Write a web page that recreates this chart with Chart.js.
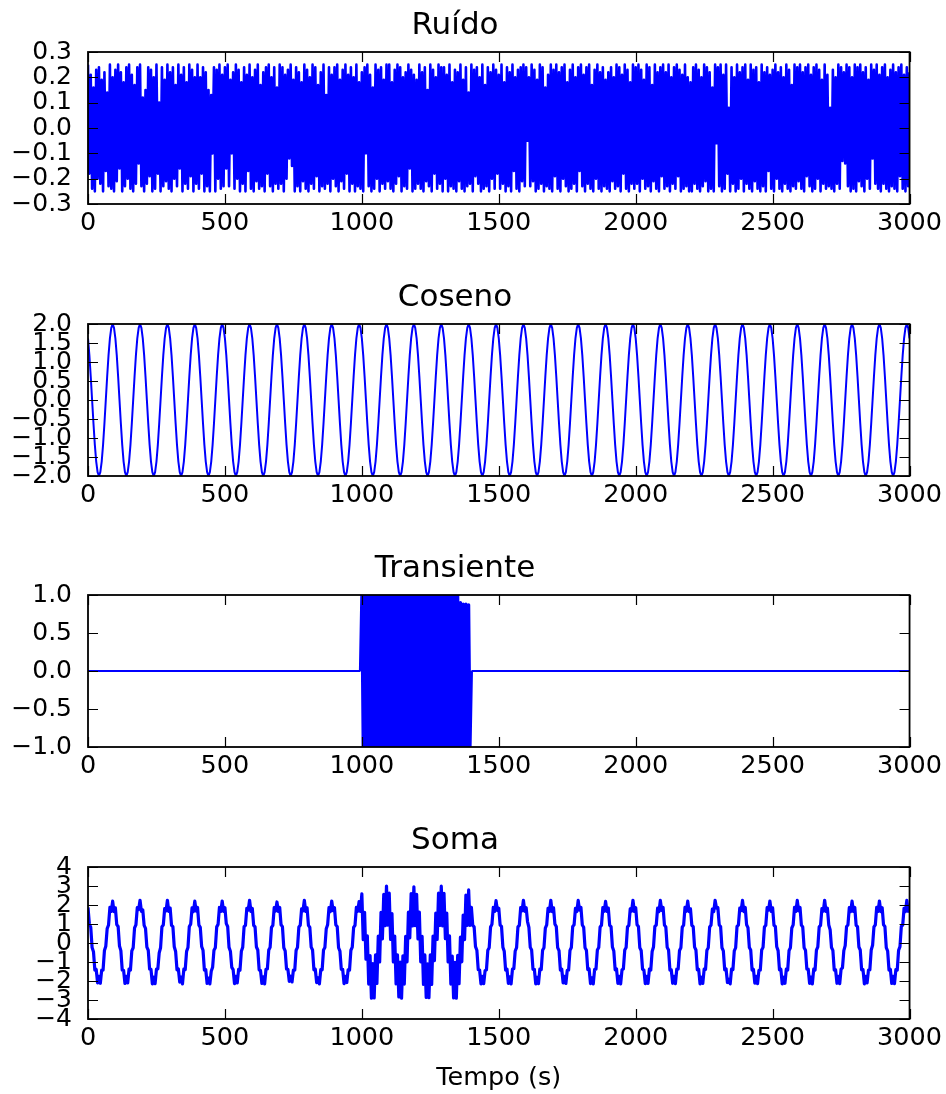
<!DOCTYPE html>
<html lang="pt">
<head>
<meta charset="utf-8">
<title>Ruído, Coseno, Transiente e Soma</title>
<script src="https://cdn.jsdelivr.net/npm/chart.js@4"></script>
<style>
  html, body { margin: 0; padding: 0; background: #fff; }
  #figura { position: relative; width: 946px; height: 1094px; }
  #figura canvas { position: absolute; left: 0; }
</style>
</head>
<body>
<div id="figura">
  <canvas id="painelRuido" width="946" height="272" style="top:0"></canvas>
  <canvas id="painelCoseno" width="946" height="272" style="top:272px"></canvas>
  <canvas id="painelTransiente" width="946" height="272" style="top:543px"></canvas>
  <canvas id="painelSoma" width="946" height="279" style="top:815px"></canvas>
</div>
<script>
// amostras a cada 5 s, de 0 a 3000 s
const passo = 5;

const ticksTempo = [0, 500, 1000, 1500, 2000, 2500, 3000];
const ticksRuido = [-0.3, -0.2, -0.1, 0, 0.1, 0.2, 0.3];
const ticksCoseno = [-2, -1.5, -1, -0.5, 0, 0.5, 1, 1.5, 2];
const ticksTransiente = [-1, -0.5, 0, 0.5, 1];
const ticksSoma = [-4, -3, -2, -1, 0, 1, 2, 3, 4];

// ruído (uma linha = 100 s)
const ruido = [
  .25,-.18,.21,-.24,.16,-.25,.23,-.2,.24,-.22,.19,-.25,.22,-.17,.14,-.23,.25,-.24,.2,-.25,
  .23,-.21,.25,-.16,.22,-.25,.18,-.23,.24,-.2,.25,-.24,.21,-.25,.17,-.22,.24,-.14,.25,-.23,
  .12,-.25,.15,-.22,.24,-.19,.23,-.25,.2,-.24,.25,-.18,.1,-.25,.24,-.23,.19,-.21,.25,-.24,
  .22,-.25,.24,-.2,.17,-.23,.25,-.16,.21,-.25,.24,-.22,.18,-.24,.25,-.19,.23,-.25,.2,-.22,
  .25,-.24,.2,-.18,.24,-.25,.22,-.23,.15,-.25,.13,-.1,.24,-.25,.23,-.2,.25,-.24,.21,-.23,
  .24,-.16,.25,-.23,.19,-.1,.22,-.24,.25,-.2,.23,-.25,.18,-.22,.24,-.25,.21,-.17,.25,-.24,
  .2,-.25,.23,-.21,.25,-.24,.17,-.23,.22,-.25,.24,-.18,.25,-.23,.2,-.25,.24,-.22,.16,-.24,
  .25,-.22,.24,-.25,.21,-.2,.23,-.12,.25,-.15,.19,-.25,.24,-.23,.22,-.25,.18,-.21,.25,-.24,
  .23,-.25,.2,-.22,.25,-.24,.24,-.19,.17,-.25,.22,-.23,.25,-.24,.13,-.22,.24,-.25,.21,-.2,
  .24,-.23,.25,-.25,.19,-.21,.23,-.24,.25,-.18,.21,-.25,.24,-.22,.2,-.25,.25,-.23,.18,-.24,
  .22,-.25,.24,-.1,.25,-.23,.21,-.25,.16,-.24,.25,-.2,.23,-.25,.24,-.22,.19,-.24,.25,-.21,
  .25,-.24,.18,-.25,.23,-.22,.25,-.19,.24,-.25,.2,-.23,.22,-.24,.25,-.16,.23,-.25,.21,-.24,
  .19,-.22,.25,-.24,.22,-.25,.24,-.21,.15,-.23,.25,-.25,.23,-.18,.2,-.24,.25,-.22,.24,-.25,
  .24,-.2,.21,-.25,.25,-.23,.18,-.24,.23,-.25,.22,-.21,.25,-.24,.19,-.25,.24,-.23,.14,-.22,
  .25,-.25,.23,-.19,.24,-.22,.2,-.25,.25,-.24,.17,-.23,.24,-.25,.22,-.2,.25,-.24,.23,-.18,
  .21,-.24,.25,-.22,.18,-.25,.24,-.23,.22,-.25,.25,-.17,.2,-.24,.23,-.25,.24,-.21,.25,-.23,
  .24,-.05,.2,-.23,.25,-.21,.23,-.25,.19,-.24,.25,-.22,.24,-.25,.16,-.23,.21,-.24,.25,-.25,
  .23,-.19,.25,-.24,.22,-.25,.24,-.2,.25,-.23,.18,-.25,.23,-.24,.25,-.22,.2,-.25,.24,-.17,
  .25,-.23,.21,-.25,.24,-.22,.25,-.24,.17,-.25,.23,-.2,.25,-.24,.22,-.25,.24,-.23,.19,-.24,
  .22,-.25,.24,-.21,.2,-.24,.25,-.23,.24,-.25,.21,-.18,.25,-.24,.23,-.25,.18,-.22,.25,-.24,
  .24,-.22,.25,-.25,.23,-.2,.19,-.24,.25,-.23,.24,-.25,.17,-.21,.25,-.24,.22,-.25,.24,-.19,
  .25,-.24,.22,-.23,.25,-.25,.2,-.22,.24,-.24,.25,-.19,.23,-.25,.21,-.24,.25,-.23,.2,-.25,
  .18,-.25,.24,-.22,.25,-.24,.23,-.25,.2,-.23,.25,-.21,.24,-.25,.22,-.24,.16,-.25,.25,-.06,
  .24,-.23,.25,-.25,.21,-.24,.25,-.18,.08,-.25,.24,-.22,.2,-.25,.25,-.24,.22,-.2,.24,-.25,
  .25,-.22,.19,-.24,.25,-.25,.23,-.21,.24,-.24,.18,-.25,.25,-.23,.22,-.25,.24,-.17,.21,-.24,
  .23,-.25,.25,-.2,.22,-.24,.24,-.25,.2,-.22,.25,-.24,.23,-.25,.17,-.23,.25,-.24,.24,-.21,
  .25,-.24,.22,-.25,.24,-.19,.25,-.23,.21,-.25,.24,-.24,.25,-.2,.23,-.25,.19,-.22,.25,-.24,
  .21,-.23,.08,-.24,.23,-.25,.2,-.22,.25,-.24,.24,-.13,.22,-.14,.25,-.23,.24,-.25,.2,-.24,
  .25,-.25,.24,-.21,.25,-.23,.22,-.25,.24,-.2,.19,-.24,.25,-.12,.23,-.22,.25,-.24,.21,-.25,
  .24,-.22,.25,-.24,.2,-.25,.23,-.23,.25,-.24,.22,-.25,.24,-.19,.25,-.24,.21,-.25,.24,-.23,
  .22
];

// um período do coseno (100 s), a partir de t = 0
const cicloCoseno = [1.62, 1.18, .62, 0, -.62, -1.18, -1.62, -1.9, -2, -1.9,
                     -1.62, -1.18, -.62, 0, .62, 1.18, 1.62, 1.9, 2, 1.9];

// rajada do transiente, de 1000 s a 1395 s; fora dela o sinal é zero
const inicioRajada = 1000;
const rajada = [
  1,-1,1,-1,1,-1,1,-1,1,-1,1,-1,1,-1,1,-1,1,-1,1,-1,
  1,-1,1,-1,1,-1,1,-1,1,-1,1,-1,1,-1,1,-1,1,-1,1,-1,
  1,-1,1,-1,1,-1,1,-1,1,-1,1,-1,1,-1,1,-1,1,-1,1,-1,
  1,-1,1,-1,1,-1,1,-1,1,-1,1,-1,.9,-1,.88,-1,.88,-1,.87,-1
];
// parcela da rajada que aparece na soma
const pesoRajadaSoma = 0.75;

const coseno = ruido.map((_, i) => cicloCoseno[i % cicloCoseno.length]);
const transiente = ruido.map((_, i) => {
  const k = i - inicioRajada / passo;
  return k >= 0 && k < rajada.length ? rajada[k] : 0;
});
const soma = ruido.map((r, i) => coseno[i] + r + pesoRajadaSoma * transiente[i]);

const fonte = "'DejaVu Sans', sans-serif";

function formatar(v, casas) {
  return v.toFixed(casas).replace('-', '\u2212');
}

// moldura preta com marcas de escala voltadas para dentro nos quatro lados
const moldura = {
  id: 'moldura',
  afterDatasetsDraw(chart) {
    const { ctx, chartArea: a, scales: { x, y } } = chart;
    const tam = 10;
    ctx.save();
    ctx.strokeStyle = '#000';
    ctx.lineWidth = 1.2;
    ctx.beginPath();
    x.ticks.forEach(t => {
      const px = Math.round(x.getPixelForValue(t.value)) + 0.5;
      ctx.moveTo(px, a.bottom); ctx.lineTo(px, a.bottom - tam);
      ctx.moveTo(px, a.top); ctx.lineTo(px, a.top + tam);
    });
    y.ticks.forEach(t => {
      const py = Math.round(y.getPixelForValue(t.value)) + 0.5;
      ctx.moveTo(a.left, py); ctx.lineTo(a.left + tam, py);
      ctx.moveTo(a.right, py); ctx.lineTo(a.right - tam, py);
    });
    ctx.stroke();
    ctx.lineWidth = 1.8;
    ctx.strokeRect(a.left, a.top, a.right - a.left, a.bottom - a.top);
    ctx.restore();
  }
};

function criarPainel(id, titulo, valores, ticksY, casas, espessura, rotuloX) {
  const pontos = valores.map((v, i) => ({ x: i * passo, y: v }));
  return new Chart(document.getElementById(id), {
    type: 'line',
    data: {
      datasets: [{
        data: pontos,
        borderColor: '#0000ff',
        borderWidth: typeof espessura === 'number' ? espessura : 2,
        borderJoinStyle: 'round',
        segment: typeof espessura === 'function' ? { borderWidth: espessura } : {},
        pointRadius: 0,
        tension: 0,
        fill: false
      }]
    },
    options: {
      responsive: false,
      animation: false,
      parsing: false,
      normalized: true,
      events: [],
      layout: { padding: { left: 0, right: 36, top: 0, bottom: 0 } },
      plugins: {
        legend: { display: false },
        tooltip: { enabled: false },
        title: {
          display: true,
          text: titulo,
          color: '#000',
          font: { family: fonte, size: 31, weight: 'normal' },
          padding: { top: 7.4, bottom: 7.4 }
        }
      },
      scales: {
        x: {
          type: 'linear',
          min: 0,
          max: 3000,
          afterBuildTicks: s => { s.ticks = ticksTempo.map(v => ({ value: v })); },
          afterFit: s => { s.height = rotuloX ? 75 : 68; },
          grid: { display: false, drawTicks: false },
          border: { display: false },
          ticks: {
            color: '#000',
            padding: 4,
            maxRotation: 0,
            autoSkip: false,
            font: { family: fonte, size: 25.5 },
            callback: v => String(v)
          },
          title: {
            display: !!rotuloX,
            text: rotuloX || '',
            color: '#000',
            font: { family: fonte, size: 25.5 },
            padding: { top: 0, bottom: 0.8 }
          }
        },
        y: {
          min: ticksY[0],
          max: ticksY[ticksY.length - 1],
          afterBuildTicks: s => { s.ticks = ticksY.map(v => ({ value: v })); },
          afterFit: s => { s.width = 88; },
          grid: { display: false, drawTicks: false },
          border: { display: false },
          ticks: {
            color: '#000',
            padding: 16,
            autoSkip: false,
            font: { family: fonte, size: 25 },
            callback: v => formatar(v, casas)
          }
        }
      }
    },
    plugins: [moldura]
  });
}

// a rajada do transiente é traçada mais grossa para fechar o bloco
const espessuraTransiente = c => (c.p0.parsed.y !== 0 || c.p1.parsed.y !== 0) ? 3.2 : 1.8;

criarPainel('painelRuido', 'Ruído', ruido, ticksRuido, 1, 2.6);
criarPainel('painelCoseno', 'Coseno', coseno, ticksCoseno, 1, 2);
criarPainel('painelTransiente', 'Transiente', transiente, ticksTransiente, 1, espessuraTransiente);
criarPainel('painelSoma', 'Soma', soma, ticksSoma, 0, 3.2, 'Tempo (s)');
</script>
</body>
</html>
